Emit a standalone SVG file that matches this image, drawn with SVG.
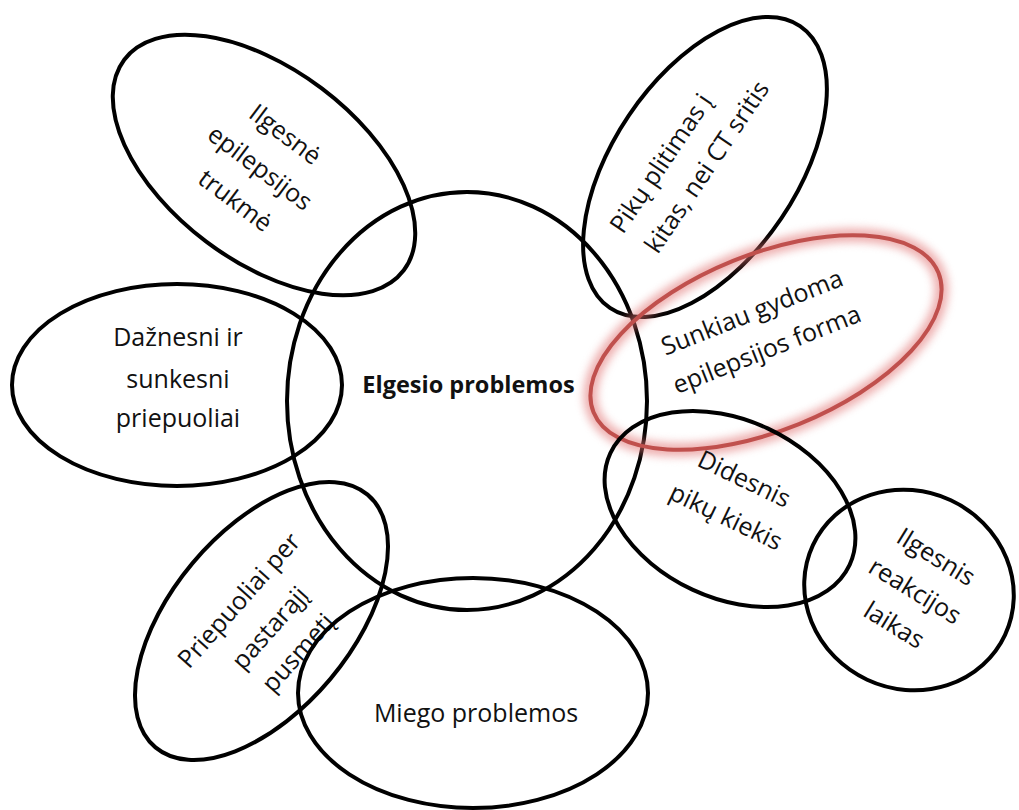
<svg xmlns="http://www.w3.org/2000/svg" width="1019" height="810" viewBox="0 0 1019 810">
<defs>
<style>
.e{fill:none;stroke:#000;stroke-width:4}
.t{font-family:"Open Sans","DejaVu Sans",sans-serif;font-size:25px;fill:#111;text-anchor:middle}
.b{font-weight:bold;font-size:23.5px}
.s{text-anchor:start}
.red{fill:none;stroke:#c0504d;stroke-width:4}
.glow{fill:none;stroke:#e07070;stroke-width:14;opacity:0.55}
</style>
<filter id="blur" x="-20%" y="-20%" width="140%" height="140%"><feGaussianBlur stdDeviation="4"/></filter>
</defs>
<rect width="1019" height="810" fill="#fff"/>
<g id="elgesio">
<ellipse class="e" cx="467" cy="401" rx="180" ry="209"/>
<text class="t b" x="468.5" y="393">Elgesio problemos</text>
</g>
<g id="ilgesne">
<ellipse class="e" cx="264" cy="165" rx="175" ry="96" transform="rotate(37 264 165)"/>
<g transform="translate(260,168) rotate(37)">
<text class="t" x="0" y="-33.5">Ilgesnė</text>
<text class="t" x="0" y="8.5">epilepsijos</text>
<text class="t" x="0" y="49.5">trukmė</text>
</g>
</g>
<g id="daznesni">
<ellipse class="e" cx="177" cy="385" rx="165" ry="101"/>
<text class="t" x="178" y="345.5">Dažnesni ir</text>
<text class="t" x="178" y="388">sunkesni</text>
<text class="t" x="178" y="427">priepuoliai</text>
</g>
<g id="priepuoliai">
<ellipse class="e" cx="261.5" cy="621" rx="165" ry="90" transform="rotate(-50 261.5 621)"/>
<g transform="translate(270,628) rotate(-48.5)">
<text class="t" x="0" y="-33">Priepuoliai per</text>
<text class="t" x="0" y="8.5">pastarąjį</text>
<text class="t" x="0" y="46">pusmetį</text>
</g>
</g>
<g id="miego">
<ellipse class="e" cx="473" cy="693" rx="175" ry="115"/>
<text class="t" x="476" y="722">Miego problemos</text>
</g>
<g id="pikuPlitimas">
<ellipse class="e" cx="705" cy="167" rx="170" ry="92" transform="rotate(-56 705 167)"/>
<g transform="translate(623,235) rotate(-56)">
<text class="t s" x="0" y="0">Pikų plitimas į</text>
<text class="t s" x="3" y="40">kitas, nei CT sritis</text>
</g>
</g>
<g id="sunkiau">
<ellipse class="glow" cx="766" cy="342.5" rx="186" ry="88" transform="rotate(-22 766 342.5)" filter="url(#blur)"/>
<ellipse class="red" cx="766" cy="342.5" rx="186" ry="88" transform="rotate(-22 766 342.5)"/>
<g transform="translate(759.5,331) rotate(-21.6)">
<text class="t" x="0" y="-11.5">Sunkiau gydoma</text>
<text class="t" x="0" y="28.5">epilepsijos forma</text>
</g>
</g>
<g id="didesnis">
<ellipse class="e" cx="730" cy="509" rx="132" ry="89" transform="rotate(25 730 509)"/>
<g transform="translate(735,498) rotate(25.7)">
<text class="t" x="0" y="-12.5">Didesnis</text>
<text class="t" x="0" y="29.5">pikų kiekis</text>
</g>
</g>
<g id="ilgesnis">
<ellipse class="e" cx="909" cy="590" rx="106" ry="99" transform="rotate(25 909 590)"/>
<g transform="translate(915,591) rotate(31.5)">
<text class="t" x="0" y="-31.5">Ilgesnis</text>
<text class="t" x="0" y="8.5">reakcijos</text>
<text class="t" x="0" y="48.5">laikas</text>
</g>
</g>
<g id="connectors"/>
</svg>
